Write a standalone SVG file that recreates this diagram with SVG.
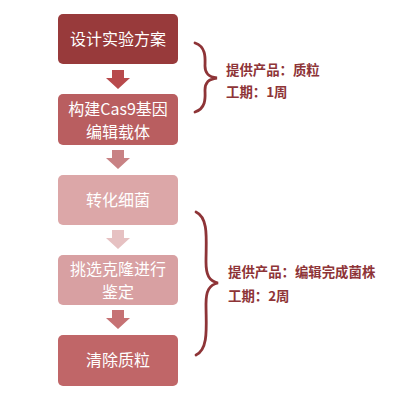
<svg xmlns="http://www.w3.org/2000/svg" width="400" height="406" viewBox="0 0 400 406">
<style>
.box text{font-family:"Noto Sans CJK SC","Liberation Sans",sans-serif;font-size:16px;fill:#fff;text-anchor:middle}
.lbl{font-family:"Noto Sans CJK SC","Liberation Sans",sans-serif;font-size:13.4px;font-weight:bold;fill:#8e3437}
.brace{fill:none;stroke:#8e3437;stroke-width:2.8;stroke-linecap:round}
</style>
<rect width="400" height="406" fill="#fff"/>
<g id="n1" class="box"><rect x="58" y="14" width="120" height="50" rx="5" fill="#983a3b"/><text x="118" y="45">设计实验方案</text></g>
<g id="n2" class="box"><rect x="58" y="94" width="120" height="51" rx="5" fill="#b95e60"/><text x="118" y="115">构建Cas9基因</text><text x="118" y="138">编辑载体</text></g>
<g id="n3" class="box"><rect x="58" y="175" width="120" height="50" rx="5" fill="#dca7a8"/><text x="118" y="206">转化细菌</text></g>
<g id="n4" class="box"><rect x="58" y="255" width="120" height="50" rx="5" fill="#d8a0a2"/><text x="118" y="275">挑选克隆进行</text><text x="118" y="298">鉴定</text></g>
<g id="n5" class="box"><rect x="58" y="335" width="120" height="51" rx="5" fill="#c06668"/><text x="118" y="366">清除质粒</text></g>
<g id="connectors">
<polygon points="112,70 124,70 124,78 130,78 118,89 106,78 112,78" fill="#b84a4c"/>
<polygon points="112,150 124,150 124,158 130,158 118,169 106,158 112,158" fill="#c88284"/>
<polygon points="112,230 124,230 124,238 130,238 118,249 106,238 112,238" fill="#e6c1c2"/>
<polygon points="112,310 124,310 124,318 130,318 118,329 106,318 112,318" fill="#c67274"/>
</g>
<g id="brace1">
<path class="brace" d="M195,43 C207,47 205,60 205,66 C205,73 208,77 217,78 C208,79 205,83 205,90 C205,96 207,108 195,112"/>
<text class="lbl" x="226" y="75">提供产品：质粒</text>
<text class="lbl" x="226" y="97">工期：1周</text>
</g>
<g id="brace2">
<path class="brace" d="M196,212 C209,218 206,240 206,262 C206,275 209,281 218,283 C209,285 206,291 206,304 C206,326 209,349 196,355"/>
<text class="lbl" x="228" y="277">提供产品：编辑完成菌株</text>
<text class="lbl" x="228" y="301">工期：2周</text>
</g>
</svg>
